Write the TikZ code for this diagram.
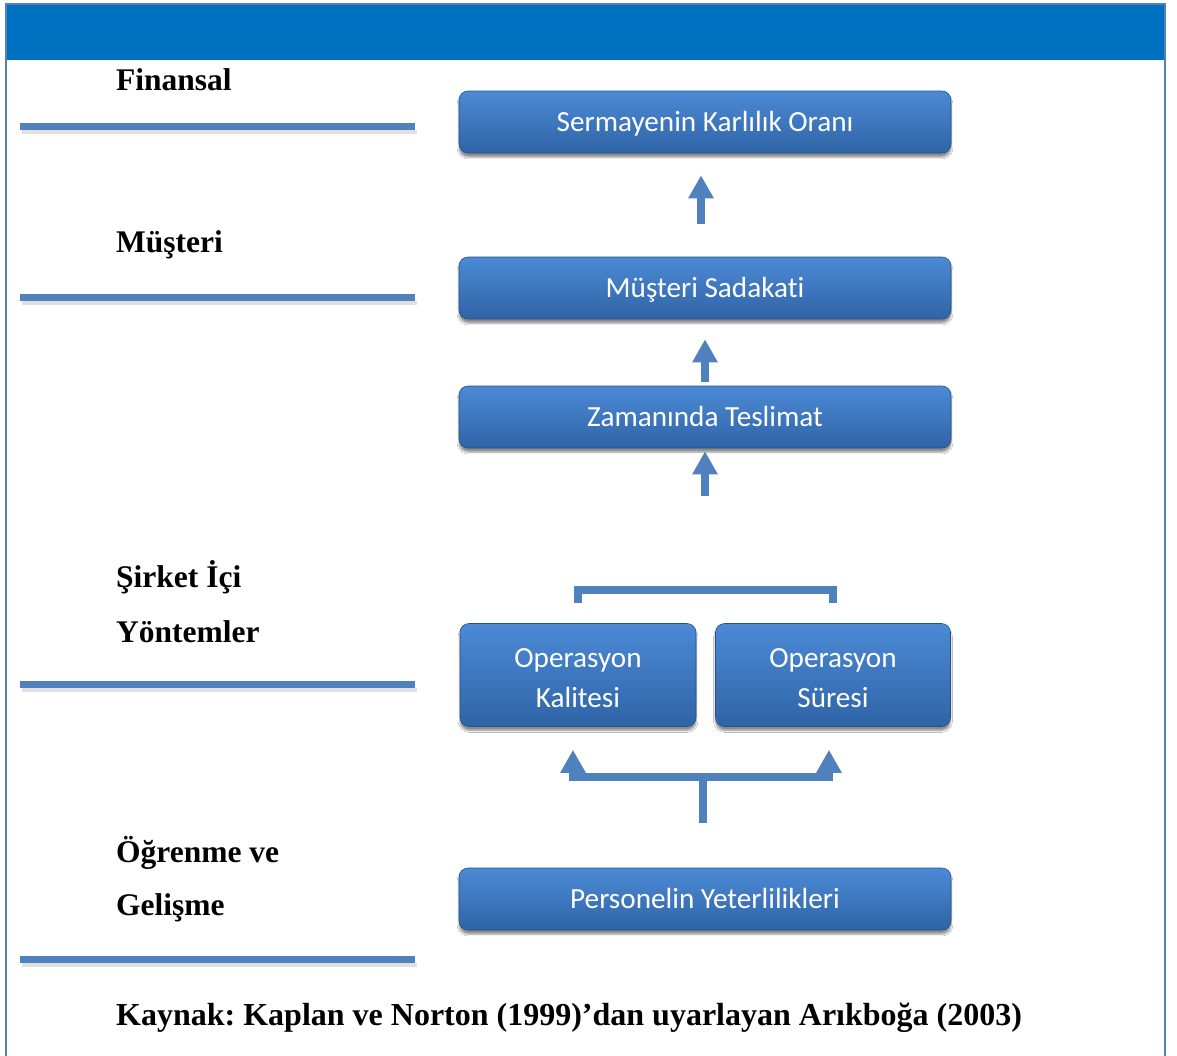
\documentclass[tikz,border=0pt]{standalone}
\usepackage{fontspec}
\setmainfont{Liberation Serif}
\newfontfamily\boxfont[Ligatures=NoCommon]{Carlito}
\usetikzlibrary{arrows.meta,shadows.blur}
\definecolor{frameblue}{HTML}{4F81BD}
\definecolor{headblue}{HTML}{0070C0}
\definecolor{boxtop}{HTML}{4C8AD6}
\definecolor{boxbot}{HTML}{2F64A6}
\definecolor{linkblue}{HTML}{4F81BD}
\tikzset{
  stagebox/.style={draw=boxbot!80!black, line width=0.6pt, rounded corners=9pt,
    top color=boxtop, bottom color=boxbot, text=white,
    font=\boxfont\fontsize{29.2}{40}\selectfont, align=center, inner sep=0pt,
    blur shadow={shadow xshift=0pt, shadow yshift=-4pt, shadow blur steps=6, shadow opacity=45}},
  onerow/.style={stagebox, minimum width=492pt, minimum height=62pt, text height=22pt, text depth=3pt},
  tworow/.style={stagebox, minimum height=103pt, text height=68pt, text depth=3pt},
  levellabel/.style={anchor=west, inner sep=0pt, font=\bfseries\fontsize{31.5}{36}\selectfont},
  sepline/.style={line width=7pt, draw=frameblue},
  link/.style={line width=8pt, draw=linkblue, line cap=butt, line join=miter},
  uptip/.style={-{Triangle[width=24pt,length=23pt]}},
}
\frenchspacing
\begin{document}
\begin{tikzpicture}[x=1pt,y=-1pt]
\useasboundingbox (0,0) rectangle (1177,1055);
% page frame and header band
\fill[white] (0,0) rectangle (1177,1055);
\fill[headblue] (6,4) rectangle (1165,60);
\draw[frameblue, line width=2.5pt] (6,1060) -- (6,4) -- (1165,4) -- (1165,1060);

% perspective separators on the left
\foreach \yy in {126,297,684,959}{
  \fill[black, opacity=0.12] (22,\yy+4) rectangle (417,\yy+8);
  \draw[sepline] (20,\yy) -- (415,\yy);
}

% perspective names
\node[levellabel] (finl) at (116,80) {Finansal};
\node[levellabel] (must) at (116,245) {Müşteri};
\node[levellabel] (sirk) at (116,577) {Şirket İçi};
\node[levellabel] (yont) at (116,632) {Yöntemler};
\node[levellabel] (ogre) at (116,853) {Öğrenme ve};
\node[levellabel] (geli) at (116,908) {Gelişme};
\node[levellabel, font=\bfseries\fontsize{32}{36}\selectfont] (kayn) at (116,1018) {Kaynak: Kaplan ve Norton (1999)’dan uyarlayan Arıkboğa (2003)};

% strategy map boxes
\node[onerow] (b1) at (705,122) {Sermayenin Karlılık Oranı};
\node[onerow] (b2) at (705,288) {Müşteri Sadakati};
\node[onerow] (b3) at (705,417) {Zamanında Teslimat};
\node[tworow, minimum width=236pt] (b4a) at (578,675) {Operasyon\\Kalitesi};
\node[tworow, minimum width=235pt] (b4b) at (833,675) {Operasyon\\Süresi};
\node[onerow] (b5) at (705,899) {Personelin Yeterlilikleri};

% upward links
\draw[link, uptip, shorten <=33pt, shorten >=22pt] ([xshift=-4pt]b2.north) -- ([xshift=-4pt]b1.south);
\draw[link, uptip, shorten <=4pt, shorten >=20pt] (b3.north) -- (b2.south);
\draw[link, uptip, shorten <=6pt, shorten >=3pt] (b3.south |- 0,502) -- (b3.south);

% bracket joining the two operation boxes
\coordinate (brk) at (704,590);
\draw[link, shorten <=20pt, shorten >=20pt] (b4a.north) |- (brk) -| (b4b.north);

% fork from staff competence to both operation boxes
\coordinate (fork) at (703,777);
\draw[link, shorten <=45pt] ([xshift=-2pt]b5.north) -- (fork);
\draw[link, uptip, shorten >=23pt] (fork) -| ([xshift=-5pt]b4a.south);
\draw[link, uptip, shorten >=23pt] (fork) -| ([xshift=-4pt]b4b.south);
\end{tikzpicture}
\end{document}
